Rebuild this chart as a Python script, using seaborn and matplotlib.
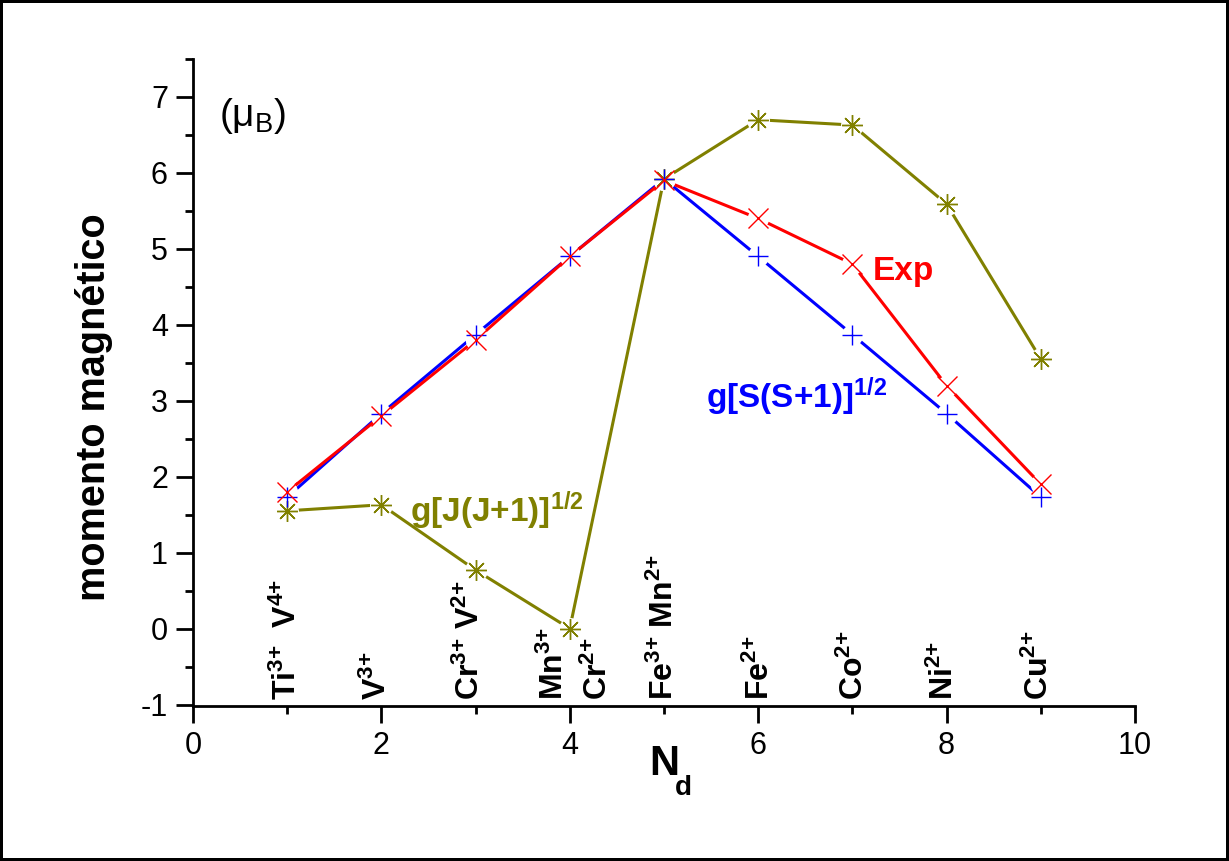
import seaborn as sns
import matplotlib.pyplot as plt
import matplotlib as mpl
from matplotlib.ticker import MultipleLocator

# number of d electrons
nd = [1, 2, 3, 4, 5, 6, 7, 8, 9]
# experimental moment
exp_mu = [1.8, 2.8, 3.8, 4.9, 5.9, 5.4, 4.8, 3.2, 1.9]
# spin only g[S(S+1)]^1/2
spin_mu = [1.73, 2.83, 3.87, 4.90, 5.92, 4.90, 3.87, 2.83, 1.73]
# full g[J(J+1)]^1/2
j_mu = [1.55, 1.63, 0.77, 0.0, 5.92, 6.70, 6.63, 5.59, 3.55]

ion_x = [1.0, 1.96, 2.94, 3.84, 4.3, 5.0, 6.02, 7.02, 7.98, 8.99]
ion_labels = [r'Ti^{3{+}}\ \ V^{4{+}}', r'V^{3{+}}', r'Cr^{3{+}}\ V^{2{+}}', r'Mn^{3{+}}',
              r'Cr^{2{+}}', r'Fe^{3{+}}\ Mn^{2{+}}', r'Fe^{2{+}}', r'Co^{2{+}}',
              r'Ni^{2{+}}', r'Cu^{2{+}}']

sns.set_theme(style='ticks')
plt.rcParams['font.family'] = ['Liberation Sans', 'DejaVu Sans']
plt.rcParams['mathtext.fontset'] = 'custom'
plt.rcParams['mathtext.rm'] = 'Liberation Sans'
plt.rcParams['mathtext.it'] = 'Liberation Sans:italic'
plt.rcParams['mathtext.bf'] = 'Liberation Sans:bold'
plt.rcParams['axes.unicode_minus'] = False
plt.rcParams['text.color'] = 'black'
plt.rcParams['axes.labelcolor'] = 'black'
plt.rcParams['xtick.color'] = 'black'
plt.rcParams['ytick.color'] = 'black'
plt.rcParams['axes.edgecolor'] = 'black'

red = '#ff0000'
blue = '#0000ff'
olive = '#808000'

fig = plt.figure(figsize=(12.29, 8.61), dpi=100)
ax = fig.add_axes([0.157, 0.18, 0.7665, 0.7515])

series = [(j_mu, olive, (8, 2, 0), 15), (spin_mu, blue, '+', 14), (exp_mu, red, 'x', 14)]
for yv, c, m, ms in series:
    sns.lineplot(x=nd, y=yv, ax=ax, color=c, linewidth=2.2)
# white gaps round the symbols, Origin style
for yv, c, m, ms in series:
    sns.scatterplot(x=nd, y=yv, ax=ax, color='white', marker='o', s=(ms * 1.1) ** 2,
                    linewidth=0, zorder=3)
for yv, c, m, ms in series:
    sns.lineplot(x=nd, y=yv, ax=ax, color=c, linewidth=0, marker=m,
                 markersize=ms, mec=c, mew=1.0, zorder=4)

ax.set_xlim(0, 10)
ax.set_ylim(-1.02, 7.5)
ax.xaxis.set_major_locator(MultipleLocator(2))
ax.xaxis.set_minor_locator(MultipleLocator(1))
ax.yaxis.set_major_locator(MultipleLocator(1))
ax.yaxis.set_minor_locator(MultipleLocator(0.5))
ax.tick_params(which='major', direction='out', length=12, width=2, labelsize=22, pad=6)
ax.tick_params(which='minor', direction='out', length=6, width=2)
sns.despine(ax=ax)
for s in ['left', 'bottom']:
    ax.spines[s].set_linewidth(2)

ax.set_ylabel('momento magnético', fontsize=28.5, fontweight='bold')
ax.yaxis.set_label_coords(-0.085, 0.462)
ax.set_xlabel('N', fontsize=30, fontweight='bold', va='top')
ax.xaxis.set_label_coords(0.5, -0.058)
ax.text(0.512, -0.138, 'd', transform=ax.transAxes, fontsize=20, fontweight='bold',
        va='baseline', ha='left')

for xi, lab in zip(ion_x, ion_labels):
    ax.text(xi, -0.94, r'$\mathbf{' + lab + '}$', rotation=90, ha='center', va='bottom',
            fontsize=23, color='black')

ax.text(0.28, 6.75, r'($\mathrm{\mu_{B}}$)', fontsize=28, va='center')
ax.text(7.22, 4.7, 'Exp', fontsize=24, fontweight='bold', color=red, va='center')
ax.text(5.45, 3.05, r'$\mathbf{g[S(S{+}1)]^{1/2}}$', fontsize=24, color=blue, va='center')
ax.text(2.3, 1.55, r'$\mathbf{g[J(J{+}1)]^{1/2}}$', fontsize=24, color=olive, va='center')

fig.patch.set_edgecolor('black')
fig.patch.set_linewidth(4)
plt.savefig('out.png', dpi=100)
